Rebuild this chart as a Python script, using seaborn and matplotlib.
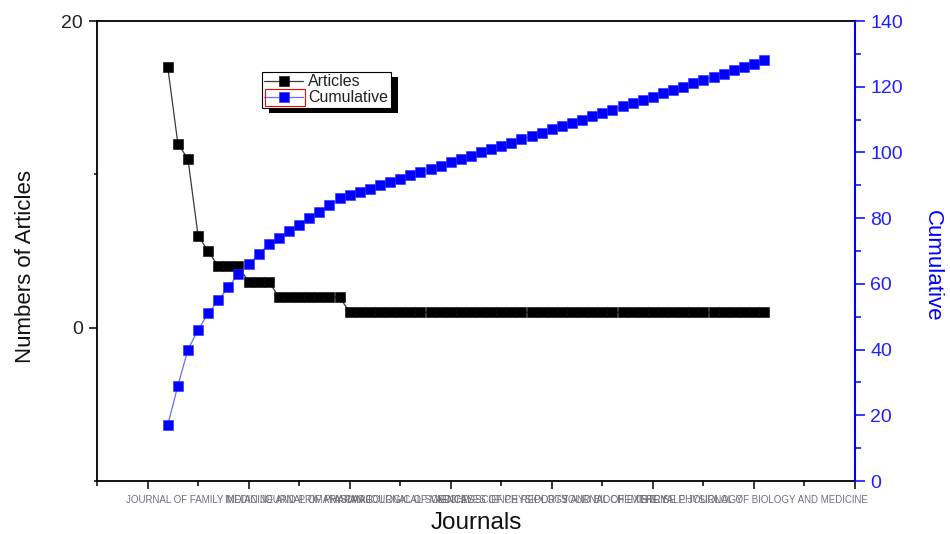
import numpy as np
import pandas as pd
import matplotlib
matplotlib.use("Agg")
import matplotlib.pyplot as plt
import seaborn as sns
from matplotlib.patches import Rectangle
from matplotlib.transforms import IdentityTransform
from matplotlib.ticker import MultipleLocator, FixedLocator

# ---------------- data ----------------
row_index = [2, 3, 4, 5, 6, 7, 8, 9, 10, 11, 12, 13, 14, 15, 16, 17, 18, 19, 20,
             21, 22, 23, 24, 25, 26, 27, 28, 29, 30, 31, 32, 33, 34, 35, 36, 37, 38,
             39, 40, 41, 42, 43, 44, 45, 46, 47, 48, 49, 50, 51, 52, 53, 54, 55, 56,
             57, 58, 59, 60, 61]
articles = [17, 12, 11, 6, 5, 4, 4, 4, 3, 3, 3, 2, 2, 2, 2, 2, 2, 2,
            1, 1, 1, 1, 1, 1, 1, 1, 1, 1, 1, 1, 1, 1, 1, 1, 1, 1, 1, 1, 1, 1,
            1, 1, 1, 1, 1, 1, 1, 1, 1, 1, 1, 1, 1, 1, 1, 1, 1, 1, 1, 1]
cumulative = [17, 29, 40, 46, 51, 55, 59, 63, 66, 69, 72, 74, 76, 78, 80, 82, 84, 86,
              87, 88, 89, 90, 91, 92, 93, 94, 95, 96, 97, 98, 99, 100, 101, 102, 103,
              104, 105, 106, 107, 108, 109, 110, 111, 112, 113, 114, 115, 116, 117,
              118, 119, 120, 121, 122, 123, 124, 125, 126, 127, 128]
tick_values = [0, 10, 20, 30, 40, 50, 60, 70]
tick_labels = ["",
               "JOURNAL OF FAMILY MEDICINE AND PRIMARY CARE",
               "INDIAN JOURNAL OF PHARMACOLOGICAL SCIENCES",
               "ASIAN JOURNAL OF MEDICAL SCIENCE REPORTS",
               "ARCHIVES OF PHYSIOLOGY AND BIOCHEMISTRY",
               "JOURNAL OF EXERCISE PHYSIOLOGY",
               "THE YALE JOURNAL OF BIOLOGY AND MEDICINE",
               ""]

df = pd.DataFrame({"Journal": row_index, "Articles": articles, "Cumulative": cumulative})

# ---------------- style ----------------
sns.set_theme(style="ticks")
plt.rcParams["font.family"] = ["Liberation Sans", "DejaVu Sans"]

fig = plt.figure(figsize=(9.5, 5.34), dpi=100)
ax = fig.add_axes([97 / 950, 53 / 534, 758 / 950, 460 / 534])
ax.set_facecolor("white")
ax2 = ax.twinx()

sns.lineplot(data=df, x="Journal", y="Articles", ax=ax, sort=False,
             color="#3a3a3a", lw=0.9, marker="s", markersize=7.6,
             markerfacecolor="black", markeredgecolor="black", markeredgewidth=0.4,
             legend=False)
sns.lineplot(data=df, x="Journal", y="Cumulative", ax=ax2, sort=False,
             color="#6b6bff", lw=0.9, marker="s", markersize=7.6,
             markerfacecolor="#0000ff", markeredgecolor="#2a2aff", markeredgewidth=0.4,
             legend=False)

ax.set_xlim(-5, 70)
ax.set_ylim(-10, 20)
ax2.set_ylim(0, 140)

# x axis
ax.xaxis.set_major_locator(FixedLocator(tick_values))
ax.set_xticklabels(tick_labels, fontsize=7, color="#6e6e7c")
ax.xaxis.set_minor_locator(MultipleLocator(5))
ax.tick_params(axis="x", which="major", length=6, width=1.1, direction="out",
               color="black", pad=4)
ax.tick_params(axis="x", which="minor", length=3.5, width=1.1, direction="out",
               color="black")

# left y axis
ax.yaxis.set_major_locator(MultipleLocator(20))
ax.yaxis.set_minor_locator(MultipleLocator(10))
ax.tick_params(axis="y", which="major", length=6, width=1.1, direction="out",
               color="black", labelsize=14, labelcolor="#222222", pad=4)
ax.tick_params(axis="y", which="minor", length=2.5, width=1.1, direction="out",
               color="black")

# right y axis
ax2.yaxis.set_major_locator(MultipleLocator(20))
ax2.yaxis.set_minor_locator(MultipleLocator(10))
ax2.tick_params(axis="y", which="major", length=7, width=1.1, direction="out",
                color="blue", labelsize=14, labelcolor="#2020ff", pad=4)
ax2.tick_params(axis="y", which="minor", length=4, width=1.1, direction="out",
                color="blue")

for side in ["left", "top", "bottom"]:
    ax.spines[side].set_color("black")
    ax.spines[side].set_linewidth(1.3)
    ax.spines[side].set_visible(True)
ax.spines["right"].set_visible(False)
for side in ["left", "top", "bottom"]:
    ax2.spines[side].set_visible(False)
ax2.spines["right"].set_color("blue")
ax2.spines["right"].set_linewidth(1.5)

ax.set_xlabel("Journals", fontsize=17.5, color="#111111", labelpad=5)
ax.set_ylabel("Numbers of Articles", fontsize=16, color="#111111")
ax.yaxis.set_label_coords(-0.081, 0.467)
ax2.set_ylabel("Cumulative", fontsize=16, color="blue", rotation=270,
               va="bottom", rotation_mode="anchor")
ax2.yaxis.set_label_coords(1.088, 0.467)

# legend
h1 = ax.lines[0]
h2 = ax2.lines[0]
leg = ax2.legend([h1, h2], ["Articles", "Cumulative"], loc="upper left",
                 bbox_to_anchor=((262 - 97) / 758, (481 - 72) / 460),
                 borderaxespad=0, fontsize=11.5, frameon=True, fancybox=False,
                 edgecolor="black", framealpha=1, borderpad=0.15, labelspacing=0.06,
                 handlelength=2.4, handletextpad=0.35, numpoints=1, markerscale=0.9)
leg.get_frame().set_linewidth(0.8)
for t in leg.get_texts():
    t.set_color("#222222")

fig.canvas.draw()
bb = leg.get_window_extent()
shadow = Rectangle((bb.x0 + 7, bb.y0 - 5), bb.width, bb.height,
                   transform=IdentityTransform(), facecolor="black",
                   edgecolor="none", zorder=4.9)
ax2.add_artist(shadow)
shadow.set_clip_on(False)
tb = leg.get_texts()[1].get_window_extent()
red = Rectangle((bb.x0 + 3, tb.y0 - 1), (tb.x0 - 3) - (bb.x0 + 3), tb.height + 2,
                transform=IdentityTransform(), facecolor="none",
                edgecolor="red", lw=0.8, zorder=6)
ax2.add_artist(red)
red.set_clip_on(False)

fig.savefig("out.png", dpi=100)
